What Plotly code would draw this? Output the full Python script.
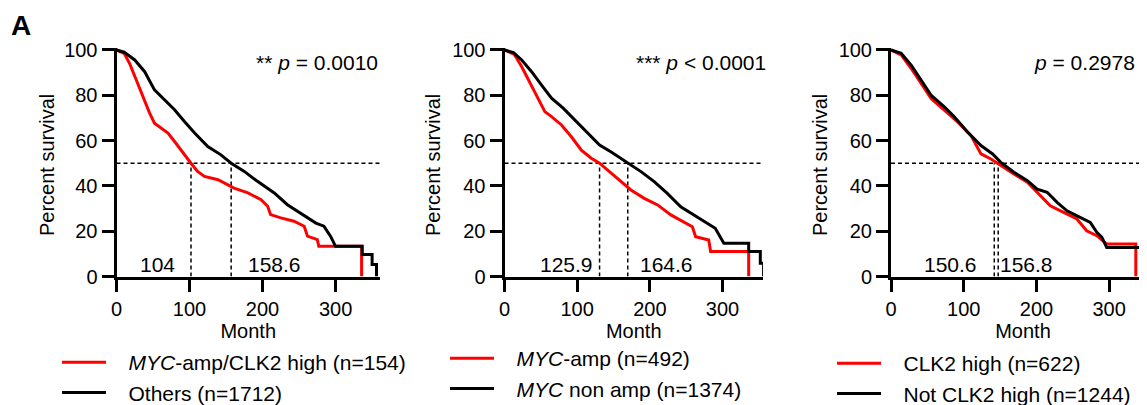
import plotly.graph_objects as go

W, H = 1147, 405
OX, OY = 8, 8  # page body margin of the html page; positions below are window pixels
FONT = "Liberation Sans, Arial, sans-serif"
RED = "#ff0000"
BLACK = "#000000"

# ---------------- data ----------------
# Panel 1: MYC-amp/CLK2 high vs Others
p1_red_month = [0, 10.5, 18, 27, 36, 45.5, 52, 61, 70.5, 79.5, 91, 102, 111, 120.5, 139, 152, 161, 180, 198, 207, 211,
                225, 243, 257, 261.5, 275, 277, 335.6, 335.6]
p1_red_pct = [100, 98.5, 94, 86.8, 79.4, 72, 67.7, 65.5, 63.3, 59.6, 54.5, 50, 46.4, 44.2, 42.7, 40.5, 39, 36.9, 33.9,
              31, 27.3, 25.9, 24.4, 22.2, 17.8, 16.3, 13.3, 13.3, 0]
p1_blk_month = [0, 10.5, 25, 38.6, 52, 66, 79.5, 93, 107, 125, 143, 157, 175, 193, 216, 234, 252, 273, 284, 293, 300,
                336.5, 336.5, 350, 350, 356, 356]
p1_blk_pct = [100, 99, 95.6, 90.4, 82.4, 78, 73.6, 68.4, 63.3, 57.4, 53.7, 50, 46.4, 42, 36.9, 31.7, 28, 23.6, 22.2,
              17.8, 13.3, 13.3, 9.7, 9.7, 5.3, 5.3, 0]

# Panel 2: MYC-amp vs MYC non amp
p2_red_month = [0, 13.7, 23.7, 35, 46.5, 55.5, 64.7, 78.4, 92, 105.7, 119.4, 130.8, 146.8, 160.5, 174, 192.3, 210.7,
                228.9, 247, 258.5, 263, 281, 283.6, 336, 336]
p2_red_pct = [100, 98, 92.6, 85.3, 78, 72.8, 70.6, 66.9, 61.7, 55.8, 52.2, 50, 45.6, 41.9, 38.2, 34.5, 31.6, 27.2,
              24.2, 22, 17.6, 16.1, 11, 11, 0]
p2_blk_month = [0, 12.3, 23.7, 37.3, 51, 64.7, 80.7, 96.6, 115, 130.8, 146.8, 169.6, 187.8, 206, 224, 242.5, 260.7,
                279, 290, 301.8, 336, 336, 352, 352, 356.5, 356.5]
p2_blk_pct = [100, 98.8, 95.6, 90.4, 84.5, 78.7, 74.3, 69.1, 63.2, 58, 55, 50, 46.3, 41.9, 36.7, 30.8, 27.2, 23.5,
              21.3, 14.7, 14.7, 11, 11, 5.8, 5.8, 0]

# Panel 3: CLK2 high vs Not CLK2 high
p3_red_month = [0, 14, 28, 42, 55.4, 73.7, 92, 110, 123.7, 137.4, 151, 169, 187.5, 205.6, 219, 237.4, 255.6, 269,
                283, 296.6, 336.6, 336.6]
p3_red_pct = [100, 97.8, 91.7, 85, 78.5, 73.3, 68.1, 62.2, 54.1, 51.9, 48.9, 45.3, 41.6, 35.7, 31.2, 28.3, 25.4,
              20.2, 18, 14.3, 14.3, 0]
p3_blk_month = [0, 14, 28, 42, 55.4, 73.7, 87.3, 105.6, 123.7, 139.7, 151, 169, 187.5, 201, 214.7, 228.4, 242, 260,
                274, 283, 290, 296.6, 351, 351, 360]
p3_blk_pct = [100, 98.5, 93.2, 86.5, 79.9, 74.8, 70.4, 63.7, 57.8, 54.1, 50.4, 46, 42.3, 38.6, 37.2, 32.7, 29, 26.1,
              23.9, 19.5, 17.3, 12.8, 12.8, 6, 6]

PAD = "&nbsp;&nbsp;&nbsp;"
red_names = ["<i>MYC</i>-amp/CLK2 high (n=154)", "<i>MYC</i>-amp (n=492)", "CLK2 high (n=622)"]
blk_names = ["Others (n=1712)", "<i>MYC</i> non amp (n=1374)", "Not CLK2 high (n=1244)"]
p_texts = ["** <i>p</i> = 0.0010", "*** <i>p</i> < 0.0001", "<i>p</i> = 0.2978"]
median_red = [102, 130.8, 142]
median_blk = [157, 169.6, 147.4]
median_red_label = ["104", "125.9", "150.6"]
median_blk_label = ["158.6", "164.6", "156.8"]
label_red_x = [56, 85, 81.5]
label_blk_x = [216, 223.5, 186.5]
x_ticks = [0, 100, 200, 300]
y_ticks = [0, 20, 40, 60, 80, 100]

# ---------------- layout geometry (window pixels) ----------------
panels_px = [(116.5, 380, 360.8), (504.5, 763, 355.7), (891, 1155, 363)]  # domain left, right, x max
y_top_px, y_bot_px = 47.7, 276.5
legend_px = [(57, 342), (445, 338), (832, 343)]
ytitle_x = [47, 433, 820]
p_pos = [(360.8, 0), (355.7, 5), (338, 0)]  # anchor month, extra px shift


def px(x):
    return (x - OX) / W


def py(y):
    return 1 - (y - OY) / H


reds = [(p1_red_month, p1_red_pct), (p2_red_month, p2_red_pct), (p3_red_month, p3_red_pct)]
blks = [(p1_blk_month, p1_blk_pct), (p2_blk_month, p2_blk_pct), (p3_blk_month, p3_blk_pct)]

fig = go.Figure()
annotations = []
shapes = []
layout = {}
tf = dict(size=20, color=BLACK, family=FONT)
af = dict(size=21, color=BLACK, family=FONT)

for i in range(3):
    sfx = "" if i == 0 else str(i + 1)
    xa, ya = "x" + sfx, "y" + sfx
    leg = "legend" + sfx
    fig.add_trace(go.Scatter(x=reds[i][0], y=reds[i][1], mode="lines", name=PAD + red_names[i],
                             line=dict(color=RED, width=3), xaxis=xa, yaxis=ya, legend=leg,
                             legendgroup="r" + sfx, hoverinfo="skip"))
    fig.add_trace(go.Scatter(x=blks[i][0], y=blks[i][1], mode="lines", name=PAD + blk_names[i],
                             line=dict(color=BLACK, width=3), xaxis=xa, yaxis=ya, legend=leg,
                             legendgroup="b" + sfx, hoverinfo="skip"))
    lpx, rpx, xmax = panels_px[i]
    layout["xaxis" + sfx] = dict(
        domain=[max(0, px(lpx)), min(1, px(rpx))], range=[0, xmax], anchor=ya,
        showline=True, linewidth=3, linecolor=BLACK, ticks="outside", ticklen=12, tickwidth=3,
        tickcolor=BLACK, tickvals=x_ticks, showgrid=False, zeroline=False, tickfont=tf,
        title=dict(text="Month", font=tf, standoff=4))
    layout["yaxis" + sfx] = dict(
        domain=[py(y_bot_px), py(y_top_px)], range=[0, 101], anchor=xa,
        showline=True, linewidth=3, linecolor=BLACK, ticks="outside", ticklen=12, tickwidth=3,
        tickcolor=BLACK, tickvals=y_ticks, showgrid=False, zeroline=False, tickfont=tf)
    annotations.append(dict(text="Percent survival", textangle=-90, xref="paper", yref="paper",
                            x=px(ytitle_x[i]), y=py(165), xanchor="center", yanchor="middle",
                            showarrow=False, font=tf))
    # dashed median guides
    dash = dict(color=BLACK, width=1.5, dash="4px,3px")
    shapes.append(dict(type="line", xref=xa, yref=ya, x0=0, x1=xmax, y0=50, y1=50, line=dash, layer="below"))
    for m in (median_red[i], median_blk[i]):
        shapes.append(dict(type="line", xref=xa, yref=ya, x0=m, x1=m, y0=0, y1=50, line=dash, layer="below"))
    annotations.append(dict(text=median_red_label[i], xref=xa, yref=ya, x=label_red_x[i], y=5.2,
                            showarrow=False, font=af))
    annotations.append(dict(text=median_blk_label[i], xref=xa, yref=ya, x=label_blk_x[i], y=5.2,
                            showarrow=False, font=af))
    annotations.append(dict(text=p_texts[i], xref=xa, yref=ya, x=p_pos[i][0], xshift=p_pos[i][1], y=94.5,
                            xanchor="right", showarrow=False, font=af))
    layout[leg] = dict(x=px(legend_px[i][0]), y=py(legend_px[i][1]), xanchor="left", yanchor="top",
                       bgcolor="rgba(0,0,0,0)", font=af, tracegroupgap=6, itemwidth=44,
                       traceorder="normal")

annotations.append(dict(text="<b>A</b>", xref="paper", yref="paper", x=px(9), y=py(26), xanchor="left",
                        yanchor="middle", showarrow=False, font=dict(size=28, color=BLACK, family=FONT)))

fig.update_layout(width=W, height=H, margin=dict(l=0, r=0, t=0, b=0, autoexpand=False), paper_bgcolor="white",
                  plot_bgcolor="white", annotations=annotations, shapes=shapes, showlegend=True,
                  font=dict(family=FONT, color=BLACK), **layout)
fig.write_html("out.html")
